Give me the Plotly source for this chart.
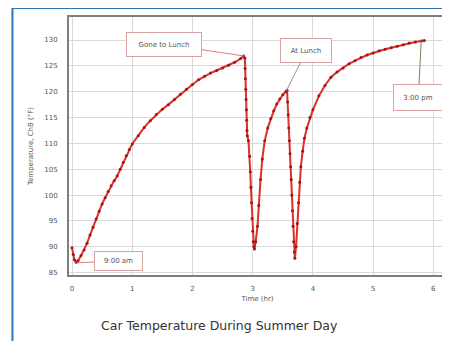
import plotly.graph_objects as go

# ---- data ----
time_hr = [
    0.00, 0.02, 0.04, 0.07, 0.10, 0.15, 0.20, 0.25, 0.30, 0.35, 0.40, 0.45, 0.50, 0.55,
    0.60, 0.65, 0.70, 0.75, 0.80, 0.85, 0.90, 0.95, 1.00, 1.10, 1.20, 1.30, 1.40, 1.50,
    1.60, 1.70, 1.80, 1.90, 2.00, 2.10, 2.20, 2.30, 2.40, 2.50, 2.60, 2.70, 2.80, 2.85,
    2.870, 2.875, 2.880, 2.885, 2.890, 2.895, 2.900, 2.905, 2.910, 2.930, 2.950, 2.960,
    2.970, 2.980, 2.990, 3.000, 3.010, 3.020, 3.030,
    3.05, 3.08, 3.10, 3.13, 3.16, 3.20, 3.25, 3.30, 3.35, 3.40, 3.45, 3.50, 3.55, 3.57,
    3.58, 3.59, 3.60, 3.61, 3.62, 3.63, 3.64, 3.65, 3.66, 3.67, 3.68, 3.69, 3.70,
    3.72, 3.74, 3.76, 3.78, 3.80, 3.83, 3.86, 3.90, 3.95, 4.00, 4.10, 4.20, 4.30, 4.40,
    4.50, 4.60, 4.70, 4.80, 4.90, 5.00, 5.10, 5.20, 5.30, 5.40, 5.50, 5.60, 5.70, 5.80, 5.85,
]
temp_f = [
    89.8, 88.5, 87.5, 87.0, 87.3, 88.3, 89.4, 90.7, 92.3, 93.8, 95.4, 96.9, 98.3, 99.5,
    100.7, 101.8, 102.8, 103.7, 105.0, 106.3, 107.6, 108.8, 109.9, 111.5, 113.1, 114.4, 115.6, 116.6,
    117.5, 118.5, 119.5, 120.5, 121.4, 122.3, 123.0, 123.6, 124.1, 124.6, 125.1, 125.7, 126.4, 126.9,
    126.5, 124.5, 122.5, 120.5, 118.5, 116.5, 114.5, 112.5, 111.5, 110.5, 107.5, 104.5,
    101.5, 98.5, 95.5, 93.0, 91.0, 90.0, 89.6,
    91.0, 94.0, 98.0, 103.0, 107.0, 110.5, 113.0, 114.8, 116.3, 117.6, 118.6, 119.4, 120.0, 120.3,
    118.0, 115.5, 113.0, 110.5, 108.0, 105.5, 103.0, 100.0, 97.0, 94.0, 91.0, 89.0, 87.8,
    90.0, 94.5, 98.5, 102.5, 105.5, 108.5, 111.0, 113.0, 115.0, 116.5, 119.2, 121.2, 122.8, 123.8,
    124.6, 125.4, 126.0, 126.6, 127.1, 127.5, 127.9, 128.2, 128.5, 128.8, 129.1, 129.4, 129.6, 129.8, 129.9,
]

x_tick_vals = [0, 1, 2, 3, 4, 5, 6]
y_tick_vals = [85, 90, 95, 100, 105, 110, 115, 120, 125, 130]

note_labels = ["Gone to Lunch", "At Lunch", "3:00 pm", "9:00 am"]
note_time = [2.86, 3.56, 5.80, 0.07]
note_temp = [126.9, 120.2, 130.1, 86.9]

title_text = "Car Temperature During Summer Day"
x_title = "Time (hr)"
y_title = "Temperature, ChB (°F)"

fig = go.Figure()
fig.add_trace(go.Scatter(
    x=time_hr, y=temp_f, mode="lines+markers",
    line=dict(color="#d9312b", width=2),
    marker=dict(color="#a81414", size=3),
    showlegend=False,
))

tick_font = dict(family="DejaVu Sans", size=7, color="#555555")

fig.update_xaxes(
    range=[-0.05, 6.21], tickvals=x_tick_vals, tickfont=tick_font,
    showgrid=True, gridcolor="#d9d9d9", gridwidth=1, zeroline=False,
    showline=True, mirror=True, linecolor="#7f7f7f", linewidth=2,
    ticks="", ticklabelstandoff=6,
    title=dict(text=x_title, font=dict(family="DejaVu Sans", size=7, color="#555555"), standoff=4),
)
fig.update_yaxes(
    range=[84.55, 134.45], tickvals=y_tick_vals, tickfont=tick_font,
    showgrid=True, gridcolor="#d9d9d9", gridwidth=1, zeroline=False,
    showline=True, mirror=True, linecolor="#7f7f7f", linewidth=2,
    ticks="", ticklabelstandoff=8,
    title=dict(text=y_title, font=dict(family="DejaVu Sans", size=7, color="#555555"), standoff=10),
)

# annotation box geometry (pixels)
ann_style = [
    dict(ax=-80, ay=-12, width=70, height=19, arrowcolor="#e07a7a"),
    dict(ax=20, ay=-40, width=46, height=19, arrowcolor="#9a9a9a"),
    dict(ax=-3, ay=58, width=44, height=21, arrowcolor="#8a7a60"),
    dict(ax=42, ay=-2, width=43, height=14, arrowcolor="#e07a7a"),
]
for lab, t, v, st in zip(note_labels, note_time, note_temp, ann_style):
    fig.add_annotation(
        x=t, y=v, text=lab, showarrow=True, arrowhead=0, arrowwidth=1,
        arrowcolor=st["arrowcolor"], ax=st["ax"], ay=st["ay"],
        width=st["width"], height=st["height"],
        bgcolor="white", bordercolor="#d9a3a3", borderwidth=1, borderpad=2,
        font=dict(family="DejaVu Sans", size=7, color="#555555"),
    )

# chart title below plot
fig.add_annotation(
    x=0.40, y=-0.194, xref="paper", yref="paper", xanchor="center", yanchor="middle",
    text=title_text, showarrow=False,
    font=dict(family="DejaVu Sans", size=12.5, color="#333333"),
)

# outer blue frame (left and top edges)
fig.add_shape(type="line", xref="paper", yref="paper", x0=-0.150, x1=-0.150, y0=1.035, y1=-0.4,
              line=dict(color="#2e75b6", width=2))
fig.add_shape(type="line", xref="paper", yref="paper", x0=-0.150, x1=1.05, y0=1.035, y1=1.035,
              line=dict(color="#2e75b6", width=2))

# page body has an 8px default margin, so the figure is 8px smaller
fig.update_layout(
    width=442, height=333,
    margin=dict(l=61, r=2, t=9, b=66),
    paper_bgcolor="white", plot_bgcolor="white",
)

fig.write_html("out.html")
